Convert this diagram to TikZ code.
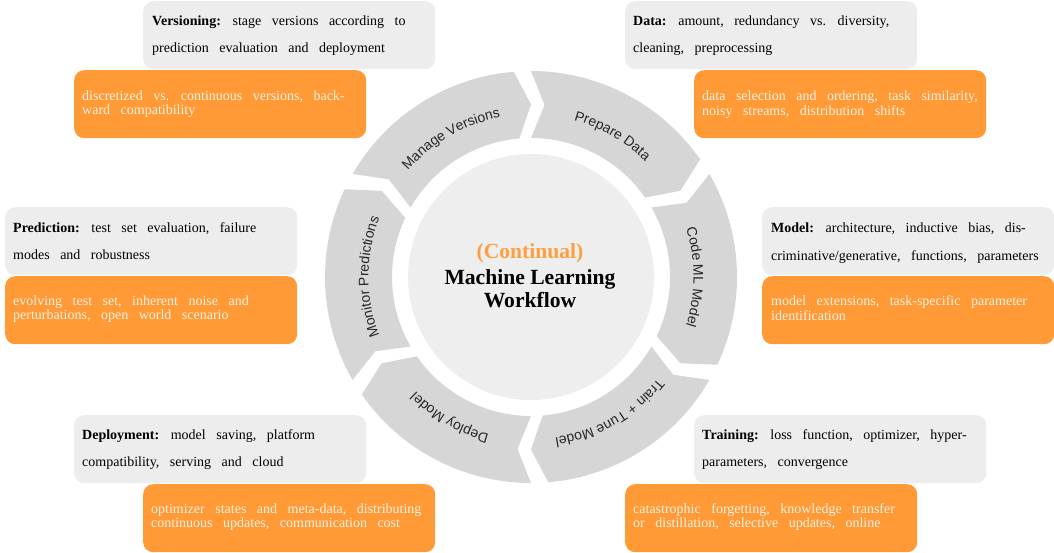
\documentclass[tikz,border=0pt]{standalone}
\usepackage{fontspec}
\setmainfont{Liberation Serif}
\newfontfamily\boxfont{Liberation Serif}[WordSpace=3]
\newfontfamily\ringfontfam{Liberation Sans}
\usetikzlibrary{decorations.text}
\definecolor{boxgrey}{HTML}{EDEDED}
\definecolor{boxorange}{HTML}{FF9A36}
\definecolor{ringgrey}{HTML}{D6D6D6}
\definecolor{innergrey}{HTML}{EEEEEE}
\definecolor{paletext}{HTML}{FFF1E3}
\definecolor{titleorange}{HTML}{FF9E40}
\newcommand\RingFont{\ringfontfam\fontsize{14}{16}\selectfont}
\newcommand\GreyLines[2]{\begin{tabular}[t]{@{}l@{}}#1\\[13pt]#2\end{tabular}}
\newcommand\OrangeLines[2]{\begin{tabular}[t]{@{}l@{}}#1\\#2\end{tabular}}
\begin{document}
\begin{tikzpicture}[x=1pt,y=1pt,
  gbox/.style={fill=boxgrey, rounded corners=10pt, minimum width=292pt, minimum height=68pt, inner sep=0pt, anchor=north west},
  obox/.style={fill=boxorange, rounded corners=10pt, minimum width=292pt, minimum height=68pt, inner sep=0pt, anchor=north west},
  gtext/.style={anchor=base west, inner sep=0pt, font=\boxfont\fontsize{14}{14}\selectfont, text=black},
  otext/.style={anchor=base west, inner sep=0pt, font=\boxfont\fontsize{14}{14}\selectfont, text=paletext},
  ringseg/.style={fill=ringgrey},
  ringlabel/.style={decorate, decoration={text along path, text align=center, text color=black!85, text={|\RingFont|#1}}},
  titletext/.style={anchor=base, inner sep=0pt, font=\bfseries\fontsize{21.6}{24}\selectfont}
]
\useasboundingbox (0,0) rectangle (1054,552);

% ---- boxes ----
\node[gbox] (vg) at (143,551) {};
\node[obox] (vo) at (74,482) {};
\node[gbox] (dg) at (625,551) {};
\node[obox] (do) at (694,482) {};
\node[gbox] (pg) at (5,345) {};
\node[obox] (po) at (5,276) {};
\node[gbox] (mg) at (762,345) {};
\node[obox] (mo) at (762,276) {};
\node[gbox] (yg) at (74,137) {};
\node[obox] (yo) at (143,68) {};
\node[gbox] (tg) at (694,137) {};
\node[obox] (to) at (625,68) {};

\node[gtext] (vgt) at ([shift={(9,-25)}]vg.north west) {\GreyLines{\textbf{Versioning:} stage versions according to}{prediction evaluation and deployment}};
\node[otext] (vot) at ([shift={(8,-31)}]vo.north west) {\OrangeLines{discretized vs. continuous versions, back-}{ward compatibility}};
\node[gtext] (dgt) at ([shift={(8,-25)}]dg.north west) {\GreyLines{\textbf{Data:} amount, redundancy vs. diversity,}{cleaning, preprocessing}};
\node[otext] (dot) at ([shift={(8,-31)}]do.north west) {\OrangeLines{data selection and ordering, task similarity,}{noisy streams, distribution shifts}};
\node[gtext] (pgt) at ([shift={(8,-26)}]pg.north west) {\GreyLines{\textbf{Prediction:} test set evaluation, failure}{modes and robustness}};
\node[otext] (pot) at ([shift={(8,-30)}]po.north west) {\OrangeLines{evolving test set, inherent noise and}{perturbations, open world scenario}};
\node[gtext] (mgt) at ([shift={(9,-26)}]mg.north west) {\GreyLines{\textbf{Model:} architecture, inductive bias, dis-}{criminative/generative, functions, parameters}};
\node[otext] (mot) at ([shift={(9,-30)}]mo.north west) {\OrangeLines{model extensions, task-specific parameter}{identification}};
\node[gtext] (ygt) at ([shift={(8,-24)}]yg.north west) {\GreyLines{\textbf{Deployment:} model saving, platform}{compatibility, serving and cloud}};
\node[otext] (yot) at ([shift={(8,-29)}]yo.north west) {\OrangeLines{optimizer states and meta-data, distributing}{continuous updates, communication cost}};
\node[gtext] (tgt) at ([shift={(8,-24)}]tg.north west) {\GreyLines{\textbf{Training:} loss function, optimizer, hyper-}{parameters, convergence}};
\node[otext] (tot) at ([shift={(8,-29)}]to.north west) {\OrangeLines{catastrophic forgetting, knowledge transfer}{or distillation, selective updates, online}};

% ---- hub ----
\node[circle, fill=innergrey, minimum size=246pt, inner sep=0pt] (hub) at (531,275) {};
\node[titletext, text=titleorange] (t1) at (530,293) {(Continual)};
\node[titletext, text=black] (t2) at (530,267) {Machine Learning};
\node[titletext, text=black] (t3) at (530,244) {Workflow};

% ---- ring ----
\begin{scope}[shift={(531,275)}]
\foreach \S in {90,30,-30,-90,-150,150}{
  \pgfmathsetmacro\Sn{\S-4.5}
  \pgfmathsetmacro\E{\S-60}
  \pgfmathsetmacro\Eh{\S-60+4.8}
  \fill[ringseg] (\S:206) -- (\Sn:172.5) -- (\S:139)
    arc[start angle=\S, end angle=\Eh, radius=139]
    -- (\E:172.5) -- (\Eh:206)
    arc[start angle=\Eh, end angle=\S, radius=206] -- cycle;
}
\path[ringlabel={Prepare Data}] (110:162.5) arc[start angle=110, end angle=10, radius=162.5];
\path[ringlabel={Code ML Model}] (50:162.5) arc[start angle=50, end angle=-50, radius=162.5];
\path[ringlabel={Train + Tune Model}] (-10:162.5) arc[start angle=-10, end angle=-110, radius=162.5];
\path[ringlabel={Deploy Model}] (-70:162.5) arc[start angle=-70, end angle=-170, radius=162.5];
\path[ringlabel={Monitor Predictions}] (-130:162.5) arc[start angle=-130, end angle=-230, radius=162.5];
\path[ringlabel={Manage Versions}] (170:162.5) arc[start angle=170, end angle=70, radius=162.5];
\end{scope}
\end{tikzpicture}
\end{document}
